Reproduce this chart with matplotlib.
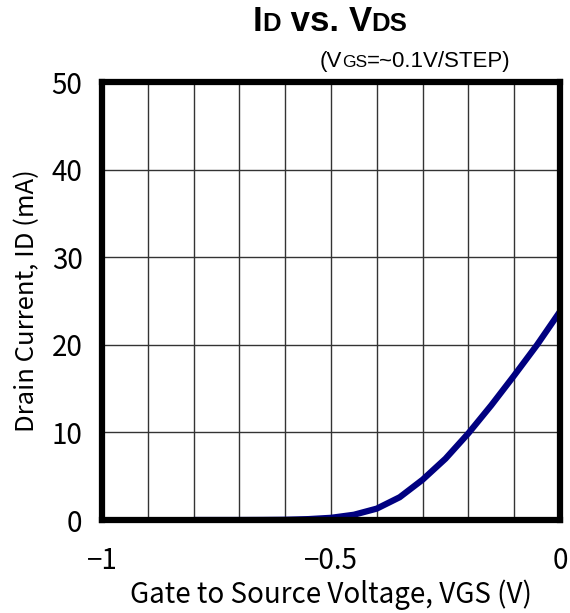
import matplotlib
matplotlib.use("Agg")
import matplotlib.pyplot as plt
from matplotlib.ticker import MultipleLocator, FixedLocator

# Data
vgs = [-0.80, -0.75, -0.70, -0.65, -0.60, -0.55, -0.50, -0.45, -0.40,
       -0.35, -0.30, -0.25, -0.20, -0.15, -0.10, -0.05, 0.00]
id_ma = [0.0, 0.0, 0.0, 0.01, 0.03, 0.1, 0.25, 0.6, 1.3,
         2.6, 4.6, 7.0, 9.9, 13.1, 16.5, 20.0, 23.8]
xticks = [-1, -0.5, 0]
xtick_labels = ["\u22121", "\u22120.5", "0"]
yticks = [0, 10, 20, 30, 40, 50]

jp = ["Noto Sans CJK JP", "DejaVu Sans"]
ar = ["Liberation Sans", "DejaVu Sans"]

fig = plt.figure(figsize=(5.70, 6.13), dpi=100)
ax = fig.add_axes([102/570, 1-520/613, 458/570, 438/613])

ax.plot(vgs, id_ma, color="#000080", lw=4.5, solid_capstyle="butt", zorder=3)

ax.set_xlim(-1, 0)
ax.set_ylim(0, 50)
ax.xaxis.set_major_locator(FixedLocator(xticks))
ax.xaxis.set_minor_locator(MultipleLocator(0.1))
ax.yaxis.set_major_locator(FixedLocator(yticks))
ax.set_xticklabels(xtick_labels, family=jp, fontsize=20)
ax.set_yticklabels([str(v) for v in yticks], family=jp, fontsize=20)
ax.tick_params(which="both", length=0)
ax.tick_params(axis="x", pad=19)
ax.tick_params(axis="y", pad=14)
ax.grid(which="both", axis="x", color="#333333", lw=1.0)
ax.grid(which="major", axis="y", color="#333333", lw=1.0)
for s in ax.spines.values():
    s.set_linewidth(4.5)
    s.set_color("black")
    s.set_zorder(4)

ax.set_xlabel("Gate to Source Voltage, VGS (V)", family=jp, fontsize=20, labelpad=2)
ax.set_ylabel("Drain Current, ID (mA)", family=jp, fontsize=18.5, labelpad=8)

# Multi-size text pieces helper
fig.canvas.draw()
renderer = fig.canvas.get_renderer()

def pieces(x_center_px, y_base_px, parts, family, weight="normal"):
    texts = []
    total = 0
    for s, size in parts:
        t = fig.text(0, 0, s, fontsize=size, family=family, weight=weight,
                     va="baseline", ha="left")
        w = t.get_window_extent(renderer).width
        texts.append((t, w))
        total += w
    x = x_center_px - total / 2
    for t, w in texts:
        t.set_position((x / 570, 1 - y_base_px / 613))
        x += w

pieces(330, 31, [("I", 25), ("D", 18.5), (" vs. ", 25), ("V", 25), ("DS", 18.5)], ar, weight="bold")
pieces(415, 67, [("(V", 16), ("GS", 12.5), ("=~0.1V/STEP)", 16)], ar)

fig.savefig("out.png", dpi=100)
